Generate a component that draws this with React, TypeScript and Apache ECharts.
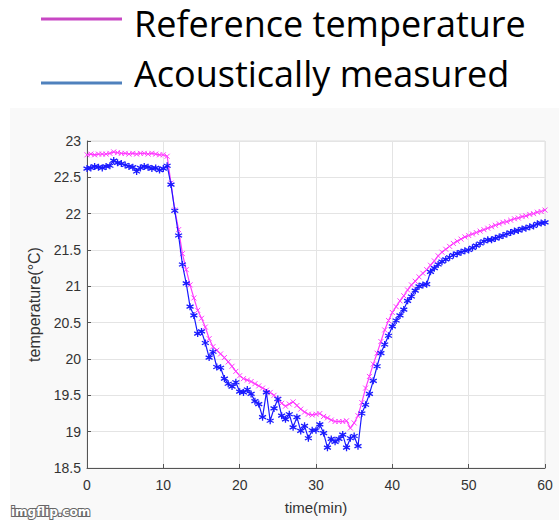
import React, { useEffect, useRef } from "react";
import * as echarts from "echarts";

const TIMES = [
  0, 0.5, 1, 1.5, 2, 2.5, 3, 3.5, 4, 4.5, 5, 5.5, 6, 6.5, 7, 7.5, 8, 8.5, 9, 9.5,
  10, 10.5, 11, 11.5, 12, 12.5, 13, 13.5, 14, 14.5, 15, 15.5, 16, 16.5, 17, 17.5, 18, 18.5, 19, 19.5,
  20, 20.5, 21, 21.5, 22, 22.5, 23, 23.5, 24, 24.5, 25, 25.5, 26, 26.5, 27, 27.5, 28, 28.5, 29, 29.5,
  30, 30.5, 31, 31.5, 32, 32.5, 33, 33.5, 34, 34.5, 35, 35.5, 36, 36.5, 37, 37.5, 38, 38.5, 39, 39.5,
  40, 40.5, 41, 41.5, 42, 42.5, 43, 43.5, 44, 44.5, 45, 45.5, 46, 46.5, 47, 47.5, 48, 48.5, 49, 49.5,
  50, 50.5, 51, 51.5, 52, 52.5, 53, 53.5, 54, 54.5, 55, 55.5, 56, 56.5, 57, 57.5, 58, 58.5, 59, 59.5, 60,
];

const REFERENCE = [
  22.81, 22.82, 22.81, 22.82, 22.82, 22.82, 22.83, 22.85, 22.84, 22.83, 22.83, 22.82, 22.83, 22.82, 22.83, 22.83, 22.82, 22.83, 22.82, 22.81,
  22.81, 22.79, 22.42, 22.05, 21.78, 21.45, 21.23, 21.02, 20.84, 20.67, 20.56, 20.44, 20.28, 20.17, 20.12, 20.07, 20.02, 19.96, 19.9, 19.83,
  19.77, 19.73, 19.71, 19.69, 19.66, 19.63, 19.6, 19.57, 19.54, 19.5, 19.45, 19.39, 19.35, 19.38, 19.41, 19.36, 19.31, 19.27, 19.24, 19.23,
  19.24, 19.25, 19.21, 19.19, 19.16, 19.14, 19.14, 19.14, 19.15, 19.05, 19.12, 19.22, 19.4, 19.6, 19.76, 19.93, 20.08, 20.24, 20.4, 20.53,
  20.64, 20.72, 20.8, 20.87, 20.95, 21.02, 21.07, 21.13, 21.18, 21.23, 21.29, 21.35, 21.42, 21.47, 21.51, 21.55, 21.59, 21.62, 21.65, 21.68,
  21.7, 21.72, 21.74, 21.76, 21.78, 21.8, 21.82, 21.84, 21.86, 21.88, 21.89, 21.91, 21.93, 21.94, 21.96, 21.97, 21.99, 22.0, 22.02, 22.03, 22.05,
];

const ACOUSTIC = [
  22.62, 22.63, 22.65, 22.64, 22.63, 22.65, 22.66, 22.73, 22.7, 22.69, 22.67, 22.65, 22.64, 22.58, 22.63, 22.65, 22.64, 22.62, 22.63, 22.6,
  22.62, 22.66, 22.4, 22.04, 21.7, 21.3, 21.04, 20.72, 20.6, 20.35, 20.38, 20.22, 20.02, 20.1, 19.89, 19.88, 19.73, 19.66, 19.62, 19.68,
  19.55, 19.54, 19.58, 19.52, 19.42, 19.38, 19.2, 19.54, 19.15, 19.32, 19.45, 19.22, 19.17, 19.24, 19.06, 19.2, 19.01, 19.08, 18.91, 19.02,
  19.02, 19.1, 18.98, 18.78, 18.9, 18.86, 18.9, 18.96, 18.78, 18.91, 18.94, 18.8, 19.25, 19.37, 19.52, 19.7, 19.9, 20.08, 20.2, 20.32,
  20.45, 20.53, 20.6, 20.68, 20.8, 20.86, 20.94, 21.0, 21.02, 21.03, 21.2, 21.25, 21.3, 21.34, 21.37, 21.4, 21.43, 21.45, 21.47, 21.49,
  21.5, 21.53, 21.56, 21.59, 21.62, 21.64, 21.64, 21.66, 21.68, 21.7, 21.72, 21.74, 21.76, 21.77, 21.79, 21.8, 21.82, 21.83, 21.86, 21.87, 21.88,
];

const X_TICKS = [0, 10, 20, 30, 40, 50, 60];
const Y_TICKS = [18.5, 19, 19.5, 20, 20.5, 21, 21.5, 22, 22.5, 23];

const LEGEND_NAMES = ["Reference temperature", "Acoustically measured"];
const X_NAME = "time(min)";
const Y_NAME = "temperature(°C)";

export default function App() {
  const ref = useRef<HTMLDivElement>(null);

  useEffect(() => {
    document.body.style.margin = "0";
    if (!ref.current) return;
    const chart = echarts.init(ref.current, undefined, { renderer: "svg" });
    const refData = TIMES.map((t, i) => [t, REFERENCE[i]]);
    const acData = TIMES.map((t, i) => [t, ACOUSTIC[i]]);
    const axisFont = "'Liberation Sans', Arial, sans-serif";
    const legendFont = "36px 'Open Sans', Lato, sans-serif";
    chart.setOption({
      animation: false,
      backgroundColor: "#ffffff",
      grid: {
        left: 87,
        right: 14,
        top: 141,
        bottom: 50,
        show: true,
        backgroundColor: "#ffffff",
        borderColor: "#dedede",
        borderWidth: 1,
      },
      xAxis: {
        type: "value",
        min: X_TICKS[0],
        max: X_TICKS[X_TICKS.length - 1],
        interval: 10,
        name: X_NAME,
        nameLocation: "middle",
        nameGap: 32,
        nameTextStyle: { color: "#333", fontSize: 15, fontFamily: axisFont },
        axisLine: { show: true, lineStyle: { color: "#555", width: 1 } },
        axisTick: { show: true, inside: true, length: 4, lineStyle: { color: "#555" } },
        axisLabel: { color: "#333", fontSize: 14, fontFamily: axisFont, margin: 10 },
        splitLine: { show: true, lineStyle: { color: "#e4e4e4", width: 1 } },
      },
      yAxis: {
        type: "value",
        min: Y_TICKS[0],
        max: Y_TICKS[Y_TICKS.length - 1],
        interval: 0.5,
        name: Y_NAME,
        nameLocation: "middle",
        nameGap: 31,
        nameTextStyle: { color: "#333", fontSize: 16, fontFamily: axisFont },
        axisLine: { show: true, lineStyle: { color: "#555", width: 1 } },
        axisTick: { show: true, inside: true, length: 4, lineStyle: { color: "#555" } },
        axisLabel: { color: "#333", fontSize: 14, fontFamily: axisFont, margin: 6 },
        splitLine: { show: true, lineStyle: { color: "#e4e4e4", width: 1 } },
      },
      series: [
        {
          name: LEGEND_NAMES[0],
          type: "line",
          data: refData,
          showAllSymbol: true,
          symbol: "path://M0 0L10 10M0 10L10 0",
          symbolSize: 5,
          lineStyle: { color: "#ff3cff", width: 1.2 },
          itemStyle: { color: "#ff3cff", borderColor: "#ff3cff", borderWidth: 1 },
          z: 2,
        },
        {
          name: LEGEND_NAMES[1],
          type: "line",
          data: acData,
          showAllSymbol: true,
          symbol: "path://M5 0L5 10M0.7 2.5L9.3 7.5M0.7 7.5L9.3 2.5",
          symbolSize: 7,
          lineStyle: { color: "#1a1aff", width: 1.2 },
          itemStyle: { color: "#1a1aff", borderColor: "#1a1aff", borderWidth: 1.3 },
          z: 3,
        },
      ],
      graphic: [
        {
          type: "rect",
          left: 10,
          top: 108,
          z: -10,
          silent: true,
          shape: { width: 549, height: 412 },
          style: { fill: "#f9f9f9" },
        },
        {
          type: "line",
          shape: { x1: 41, y1: 19, x2: 122, y2: 19 },
          style: { stroke: "#c847c4", lineWidth: 3 },
        },
        {
          type: "text",
          x: 134,
          y: 23,
          style: {
            text: LEGEND_NAMES[0],
            fill: "#000",
            font: legendFont,
            textVerticalAlign: "middle",
          },
        },
        {
          type: "line",
          shape: { x1: 41, y1: 83, x2: 122, y2: 83 },
          style: { stroke: "#4f81bd", lineWidth: 3 },
        },
        {
          type: "text",
          x: 134,
          y: 73,
          style: {
            text: LEGEND_NAMES[1],
            fill: "#000",
            font: legendFont,
            textVerticalAlign: "middle",
          },
        },
        {
          type: "text",
          x: 11,
          y: 512,
          style: {
            text: "imgflip.com",
            fill: "#ffffff",
            stroke: "#666",
            lineWidth: 2,
            font: "bold 12px 'DejaVu Sans', sans-serif",
            textVerticalAlign: "middle",
          },
        },
      ],
    });
    return () => chart.dispose();
  }, []);

  return <div ref={ref} style={{ width: 559, height: 520 }} />;
}
